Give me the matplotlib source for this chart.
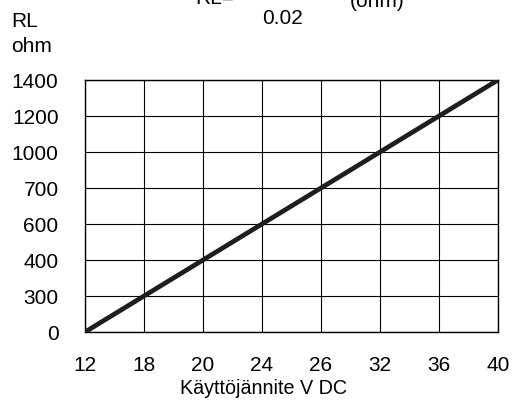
import matplotlib
matplotlib.use("Agg")
import matplotlib.pyplot as plt

# category scales of the chart (equally spaced labels)
volts = [12, 18, 20, 24, 26, 32, 36, 40]
ohms = [0, 300, 400, 600, 700, 1000, 1200, 1400]

W, H = 521, 405
plt.rcParams['font.family'] = ['Liberation Sans', 'DejaVu Sans']
fs = 15

fig = plt.figure(figsize=(W / 100, H / 100), dpi=100)
ax = fig.add_axes([85 / W, 1 - 332 / H, (498 - 85) / W, (332 - 80) / H])

xi = list(range(len(volts)))
yi = [ohms.index(v) for v in ohms]
ax.plot(xi, yi, color='#1e1e1e', lw=3.4, solid_capstyle='butt', zorder=3)

ax.set_xlim(0, len(volts) - 1)
ax.set_ylim(0, len(ohms) - 1)
ax.set_xticks(xi)
ax.set_xticklabels([str(v) for v in volts], fontsize=fs)
ax.set_yticks(range(len(ohms)))
ax.set_yticklabels([str(v) for v in ohms], fontsize=fs)
ax.tick_params(length=0)
ax.tick_params(axis='y', pad=19)
ax.tick_params(axis='x', pad=17)
ax.grid(True, color='black', lw=0.8)
for s in ax.spines.values():
    s.set_linewidth(1.0)
    s.set_color('black')

def px(x, y):
    return x / W, 1 - y / H

fig.text(*px(264, 394), "Käyttöjännite V DC", fontsize=fs * 0.95, ha='center', va='baseline')
fig.text(*px(11, 27), "RL", fontsize=fs, ha='left', va='baseline')
fig.text(*px(11, 52), "ohm", fontsize=fs, ha='left', va='baseline')
fig.text(*px(195, 4), "RL=", fontsize=fs, ha='left', va='baseline')
fig.text(*px(262, 24), "0.02", fontsize=fs, ha='left', va='baseline')
fig.text(*px(350, 7), "(ohm)", fontsize=fs, ha='left', va='baseline')

fig.savefig("out.png", dpi=100)
